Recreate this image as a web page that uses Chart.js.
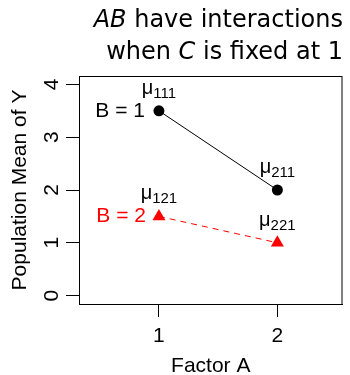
<!DOCTYPE html>
<html>
<head>
<meta charset="utf-8">
<script src="https://cdn.jsdelivr.net/npm/chart.js@4.4.1/dist/chart.umd.min.js"></script>
<style>
    html, body { margin: 0; padding: 0; background: #fff; }
    #wrap { width: 350px; height: 375px; position: relative; }
</style>
</head>
<body>
<div id="wrap"><canvas id="interactionChart"></canvas></div>
<script>
// DATA
const factorA = [1, 2];
const meansB1 = [3.5, 2];
const meansB2 = [1.5, 1];
const subsB1 = ['111', '211'];
const subsB2 = ['121', '221'];
const xTicks = [1, 2];
const yTicks = [0, 1, 2, 3, 4];
const groupNames = ['B = 1', 'B = 2'];
const titleLines = [
    [{ t: 'AB', it: true }, { t: ' have interactions' }],
    [{ t: 'when ' }, { t: 'C', it: true }, { t: ' is fixed at 1' }]
];
const xTitle = 'Factor A';
const yTitle = 'Population Mean of Y';

const AXIS_FONT = '"Liberation Sans", Arial, sans-serif';
const TITLE_FONT = '"DejaVu Sans", sans-serif';
const RED = '#ff0000';

// R-like decorations: box, tick labels, axis titles, title, text labels
const rDecor = {
    id: 'rDecor',
    afterDraw(chart) {
        const c = chart.ctx;
        const a = chart.chartArea;
        const xs = chart.scales.x;
        const ys = chart.scales.y;
        c.save();

        // box
        c.strokeStyle = '#000';
        c.lineWidth = 1;
        c.strokeRect(a.left + 0.5, a.top + 0.5, a.right - a.left - 1, a.bottom - a.top);

        // x tick labels
        c.fillStyle = '#000';
        c.font = '21px ' + AXIS_FONT;
        c.textAlign = 'center';
        c.textBaseline = 'alphabetic';
        xTicks.forEach(v => c.fillText(String(v), xs.getPixelForValue(v), 342));

        // y tick labels (rotated like R)
        yTicks.forEach(v => {
            c.save();
            c.translate(58, ys.getPixelForValue(v));
            c.rotate(-Math.PI / 2);
            c.fillText(String(v), 0, 0);
            c.restore();
        });

        // axis titles
        c.fillText(xTitle, (a.left + a.right) / 2, 372);
        c.save();
        c.translate(26, (a.top + a.bottom) / 2);
        c.rotate(-Math.PI / 2);
        c.fillText(yTitle, 0, 0);
        c.restore();

        // main title, two lines
        const baselines = [27, 59];
        titleLines.forEach((line, i) => {
            let w = 0;
            line.forEach(s => {
                c.font = (s.it ? 'italic ' : '') + '24px ' + TITLE_FONT;
                w += c.measureText(s.t).width;
            });
            let x = 343 - w;
            c.textAlign = 'left';
            line.forEach(s => {
                c.font = (s.it ? 'italic ' : '') + '24px ' + TITLE_FONT;
                c.fillText(s.t, x, baselines[i]);
                x += c.measureText(s.t).width;
            });
        });

        // group labels left of first point
        c.font = '21px ' + AXIS_FONT;
        c.textAlign = 'right';
        c.textBaseline = 'middle';
        c.fillStyle = '#000';
        c.fillText(groupNames[0], xs.getPixelForValue(factorA[0]) - 14, ys.getPixelForValue(meansB1[0]));
        c.fillStyle = RED;
        c.fillText(groupNames[1], xs.getPixelForValue(factorA[0]) - 13, ys.getPixelForValue(meansB2[0]));

        // mu labels above each point
        c.fillStyle = '#000';
        c.textAlign = 'left';
        c.textBaseline = 'alphabetic';
        const drawMu = (xv, yv, sub) => {
            c.font = '20px ' + AXIS_FONT;
            const wm = c.measureText('\u03bc').width;
            c.font = '15px ' + AXIS_FONT;
            const ws = c.measureText(sub).width;
            const x0 = xs.getPixelForValue(xv) - (wm + ws) / 2;
            const yb = ys.getPixelForValue(yv + 0.4) + 4;
            c.font = '20px ' + AXIS_FONT;
            c.fillText('\u03bc', x0, yb);
            c.font = '15px ' + AXIS_FONT;
            c.fillText(sub, x0 + wm, yb + 4);
        };
        factorA.forEach((xv, i) => {
            drawMu(xv, meansB1[i], subsB1[i]);
            drawMu(xv, meansB2[i], subsB2[i]);
        });

        c.restore();
    }
};

const ctx = document.getElementById('interactionChart').getContext('2d');

const interactionChart = new Chart(ctx, {
    type: 'line',
    data: {
        datasets: [
            {
                label: groupNames[0],
                data: factorA.map((x, i) => ({ x: x, y: meansB1[i] })),
                borderColor: '#000',
                backgroundColor: '#000',
                borderWidth: 1,
                pointStyle: 'circle',
                pointRadius: 5.5,
                pointBorderWidth: 0,
                tension: 0
            },
            {
                label: groupNames[1],
                data: factorA.map((x, i) => ({ x: x, y: meansB2[i] })),
                borderColor: RED,
                backgroundColor: RED,
                borderWidth: 1,
                borderDash: [6, 5],
                pointStyle: 'triangle',
                pointRadius: 7.5,
                pointBorderWidth: 0,
                tension: 0
            }
        ]
    },
    options: {
        responsive: true,
        maintainAspectRatio: false,
        animation: false,
        layout: { padding: { top: 76, right: 6, left: 0, bottom: 0 } },
        plugins: {
            legend: { display: false },
            tooltip: { enabled: false }
        },
        scales: {
            x: {
                type: 'linear',
                min: 0.325,
                max: 2.55,
                afterBuildTicks: s => { s.ticks = xTicks.map(v => ({ value: v })); },
                afterFit: s => { s.height = 71; },
                ticks: { display: false },
                grid: { drawOnChartArea: false, drawTicks: true, tickLength: 13, color: '#000', lineWidth: 1 },
                border: { display: true, color: '#000' }
            },
            y: {
                type: 'linear',
                min: -0.16,
                max: 4.16,
                afterBuildTicks: s => { s.ticks = yTicks.map(v => ({ value: v })); },
                afterFit: s => { s.width = 79; },
                ticks: { display: false },
                grid: { drawOnChartArea: false, drawTicks: true, tickLength: 13, color: '#000', lineWidth: 1 },
                border: { display: true, color: '#000' }
            }
        }
    },
    plugins: [rDecor]
});
</script>
</body>
</html>
